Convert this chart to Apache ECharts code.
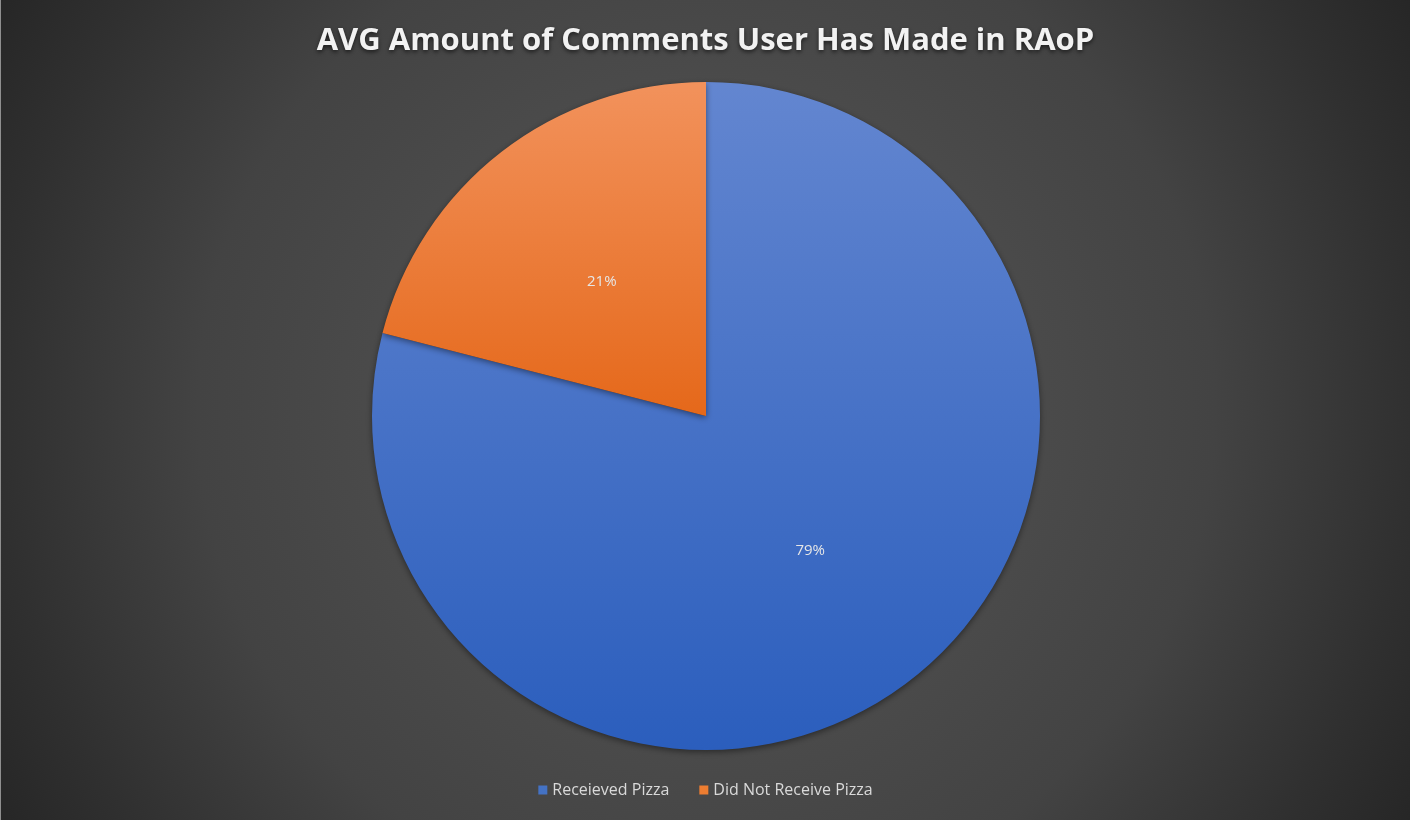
<!DOCTYPE html>
<html>
<head>
<meta charset="utf-8">
<script src="https://cdn.jsdelivr.net/npm/echarts@6/dist/echarts.min.js"></script>
<style>
    html, body { margin: 0; padding: 0; background: #2a2a2a; }
    #main { width: 1409px; height: 820px; border-left: 1px solid #8f8f8f; }
</style>
</head>
<body>
<div id="main"></div>
<script>
    // categories and values
    var categories = ['Receieved Pizza', 'Did Not Receive Pizza'];
    var shares = [79, 21];

    var sliceColors = [
        { top: '#6386d0', bottom: '#2b5ebd' },
        { top: '#f2925c', bottom: '#e5681a' }
    ];
    var legendColors = ['#4472c4', '#ed7d31'];

    var chart = echarts.init(document.getElementById('main'));

    function grad(c, y2) {
        return {
            type: 'linear', x: 0, y: 82, x2: 0, y2: y2, global: true,
            colorStops: [{ offset: 0, color: c.top }, { offset: 1, color: c.bottom }]
        };
    }

    var option = {
        backgroundColor: {
            type: 'radial', x: 705, y: 410, r: 820, global: true,
            colorStops: [
                { offset: 0, color: '#525252' },
                { offset: 0.3, color: '#4e4e4e' },
                { offset: 0.62, color: '#434343' },
                { offset: 0.86, color: '#303030' },
                { offset: 1, color: '#262626' }
            ]
        },
        title: {
            text: 'AVG Amount of Comments User Has Made in RAoP',
            left: 'center',
            top: 21,
            textStyle: {
                color: '#f2f2f2',
                fontFamily: 'Open Sans',
                fontWeight: 'bold',
                fontSize: 31,
                textShadowColor: 'rgba(0,0,0,0.6)',
                textShadowBlur: 4,
                textShadowOffsetY: 2
            }
        },
        legend: {
            bottom: 17,
            left: 'center',
            itemWidth: 9,
            itemHeight: 9,
            itemGap: 30,
            icon: 'rect',
            textStyle: { color: '#d9d9d9', fontFamily: 'Open Sans', fontSize: 16 },
            data: categories.map(function (n, i) {
                return { name: n, itemStyle: { color: legendColors[i] } };
            })
        },
        series: [
            {
                type: 'pie',
                center: [705, 416],
                radius: [0, 334],
                startAngle: 90,
                clockwise: true,
                silent: true,
                label: {
                    show: true,
                    position: 'inside',
                    color: '#e6e6e6',
                    fontFamily: 'Open Sans',
                    fontSize: 15,
                    formatter: '{c}%'
                },
                labelLine: { show: false },
                itemStyle: {
                    borderWidth: 0,
                    shadowColor: 'rgba(0,0,0,0.45)',
                    shadowBlur: 6,
                    shadowOffsetY: 2
                },
                data: categories.map(function (n, i) {
                    return {
                        name: n,
                        value: shares[i],
                        itemStyle: { color: grad(sliceColors[i], i === 0 ? 750 : 416) }
                    };
                })
            }
        ]
    };

    chart.setOption(option);
</script>
</body>
</html>
